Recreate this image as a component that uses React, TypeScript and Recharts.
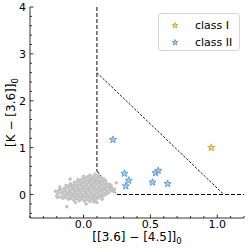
import React from "react";
import {
  ScatterChart,
  Scatter,
  XAxis,
  YAxis,
  ReferenceLine,
  Legend,
  Label,
} from "recharts";

// field sources, [[3.6]-[4.5]]0 vs [K-[3.6]]0
const FIELD: [number, number][] = [
  [-0.19, 0.03], [-0.185, 0.09], [-0.2, -0.02], [-0.21, 0.07], [-0.195, -0.06],
  [-0.17, -0.05], [-0.165, 0.04], [-0.172, 0.11], [-0.178, 0.16],
  [-0.152, -0.08], [-0.148, -0.01], [-0.155, 0.06], [-0.145, 0.13],
  [-0.132, -0.06], [-0.128, 0.0], [-0.135, 0.07], [-0.126, 0.14], [-0.13, 0.19], [-0.125, -0.26],
  [-0.112, -0.1], [-0.108, -0.03], [-0.115, 0.03], [-0.106, 0.09], [-0.11, 0.16], [-0.104, 0.21], [-0.1, 0.33],
  [-0.092, -0.08], [-0.088, -0.02], [-0.094, 0.04], [-0.086, 0.11], [-0.09, 0.17], [-0.095, 0.23],
  [-0.072, -0.12], [-0.068, -0.05], [-0.074, 0.01], [-0.066, 0.07], [-0.07, 0.13], [-0.075, 0.19], [-0.068, 0.26],
  [-0.052, -0.09], [-0.048, -0.03], [-0.055, 0.03], [-0.046, 0.09], [-0.05, 0.15], [-0.053, 0.21], [-0.047, 0.28],
  [-0.06, -0.17], [-0.04, 0.32],
  [-0.032, -0.13], [-0.028, -0.06], [-0.034, 0.0], [-0.026, 0.06], [-0.03, 0.12], [-0.035, 0.18], [-0.027, 0.24], [-0.031, 0.3],
  [-0.012, -0.1], [-0.008, -0.04], [-0.014, 0.02], [-0.006, 0.08], [-0.01, 0.14], [-0.015, 0.2], [-0.007, 0.26], [-0.011, 0.33],
  [0.008, -0.14], [0.012, -0.07], [0.006, -0.01], [0.014, 0.05], [0.01, 0.11], [0.005, 0.17], [0.013, 0.23], [0.009, 0.29], [0.011, 0.35],
  [0.02, -0.2], [0.0, 0.39],
  [0.028, -0.11], [0.032, -0.05], [0.026, 0.01], [0.034, 0.07], [0.03, 0.13], [0.025, 0.19], [0.033, 0.25], [0.029, 0.31], [0.031, 0.38],
  [0.048, -0.15], [0.052, -0.08], [0.046, -0.02], [0.054, 0.04], [0.05, 0.1], [0.045, 0.16], [0.053, 0.22], [0.049, 0.28], [0.051, 0.34], [0.047, 0.41],
  [0.068, -0.1], [0.072, -0.04], [0.066, 0.02], [0.074, 0.08], [0.07, 0.14], [0.065, 0.2], [0.073, 0.26], [0.069, 0.32], [0.071, 0.38],
  [0.078, -0.16],
  [0.088, -0.12], [0.092, -0.06], [0.086, 0.0], [0.094, 0.06], [0.09, 0.12], [0.085, 0.18], [0.093, 0.24], [0.089, 0.3], [0.091, 0.36], [0.087, 0.43],
  [0.1, -0.17],
  [0.108, -0.08], [0.112, -0.02], [0.106, 0.04], [0.114, 0.1], [0.11, 0.16], [0.105, 0.22], [0.113, 0.28], [0.109, 0.34], [0.111, 0.4],
  [0.128, -0.05], [0.132, 0.01], [0.126, 0.07], [0.134, 0.13], [0.13, 0.19], [0.125, 0.25], [0.133, 0.31], [0.129, 0.37],
  [0.148, -0.03], [0.152, 0.03], [0.146, 0.09], [0.154, 0.15], [0.15, 0.21], [0.145, 0.27], [0.153, 0.33],
  [0.14, -0.1],
  [0.168, 0.0], [0.172, 0.06], [0.166, 0.12], [0.174, 0.18], [0.17, 0.24], [0.165, 0.3],
  [0.188, 0.04], [0.192, 0.1], [0.186, 0.16], [0.194, 0.22],
  [0.208, 0.08], [0.212, 0.14], [0.206, 0.2],
  [0.228, 0.06], [0.232, 0.12],
  [0.245, 0.25],
];

const CLASS_I: [number, number][] = [[0.955, 1.0]];

const CLASS_II: [number, number][] = [
  [0.22, 1.17],
  [0.306, 0.45],
  [0.338, 0.3],
  [0.316, 0.18],
  [0.539, 0.46],
  [0.559, 0.51],
  [0.516, 0.26],
  [0.629, 0.23],
];

// selection boundaries
const VERT_LINE = [{ x: 0.1, y: 4 }, { x: 0.1, y: 0.5 }];
const LOWER_DIAG = [{ x: 0.1, y: 0.5 }, { x: 0.25, y: 0 }];
const ZERO_LINE = [{ x: 0.25, y: 0 }, { x: 1.2, y: 0 }];
const UPPER_DIAG = [{ x: 0.1, y: 2.6 }, { x: 1.05, y: 0 }];

const X_DOMAIN = [-0.4, 1.2];
const Y_DOMAIN = [-0.5, 4];
const X_TICKS = [-0.4, -0.3, -0.2, -0.1, 0, 0.1, 0.2, 0.3, 0.4, 0.5, 0.6, 0.7, 0.8, 0.9, 1.0, 1.1, 1.2];
const X_MAJOR = [0, 0.5, 1.0];
const Y_TICKS = [-0.4, -0.2, 0, 0.2, 0.4, 0.6, 0.8, 1, 1.2, 1.4, 1.6, 1.8, 2, 2.2, 2.4, 2.6, 2.8, 3, 3.2, 3.4, 3.6, 3.8, 4];
const Y_MAJOR = [0, 1, 2, 3, 4];

const COLORS: Record<string, { fill: string; stroke: string }> = {
  "class I": { fill: "#ecd28c", stroke: "#d2a437" },
  "class II": { fill: "#a9cbec", stroke: "#5a9bd6" },
};

const FONT = "DejaVu Sans, sans-serif";
const toPts = (a: [number, number][]) => a.map(([x, y]) => ({ x, y }));

const isMajor = (v: number, list: number[]) => list.some((m) => Math.abs(m - v) < 1e-6);

function Star({ cx, cy, r = 3.8, fill, stroke }: any) {
  const pts: string[] = [];
  for (let i = 0; i < 10; i++) {
    const rr = i % 2 === 0 ? r : r * 0.42;
    const a = -Math.PI / 2 + (i * Math.PI) / 5;
    pts.push(`${cx + rr * Math.cos(a)},${cy + rr * Math.sin(a)}`);
  }
  return <polygon points={pts.join(" ")} fill={fill} stroke={stroke} strokeWidth={0.9} strokeLinejoin="round" />;
}

const tickFor = (side: "bottom" | "top" | "left" | "right") => (p: any) => {
  const v = p.payload.value;
  const major = isMajor(v, side === "bottom" || side === "top" ? X_MAJOR : Y_MAJOR);
  const len = major ? 3.5 : 2;
  const { x, y } = p;
  if (side === "bottom")
    return (
      <g>
        <line x1={x} y1={y} x2={x} y2={y - len} stroke="#000" strokeWidth={0.8} />
        {major && (
          <text x={x} y={y + 10} textAnchor="middle" fontSize={11} fontFamily={FONT} fill="#000">
            {v.toFixed(1)}
          </text>
        )}
      </g>
    );
  if (side === "top") return <line x1={x} y1={y} x2={x} y2={y + len} stroke="#000" strokeWidth={0.8} />;
  if (side === "left")
    return (
      <g>
        <line x1={x} y1={y} x2={x + len} y2={y} stroke="#000" strokeWidth={0.8} />
        {major && (
          <text x={x - 4} y={y + 4} textAnchor="end" fontSize={11} fontFamily={FONT} fill="#000">
            {v}
          </text>
        )}
      </g>
    );
  return <line x1={x} y1={y} x2={x - len} y2={y} stroke="#000" strokeWidth={0.8} />;
};

function XTitle({ viewBox }: any) {
  const cx = viewBox.x + viewBox.width / 2;
  return (
    <text x={cx} y={viewBox.y + 23} textAnchor="middle" fontSize={12} fontFamily={FONT} fill="#000">
      [[3.6] − [4.5]]
      <tspan dy={3} fontSize={8.5}>0</tspan>
    </text>
  );
}

function YTitle({ viewBox }: any) {
  const cy = viewBox.y + viewBox.height / 2;
  const x = 15;
  return (
    <text
      x={x}
      y={cy}
      transform={`rotate(-90 ${x} ${cy})`}
      textAnchor="middle"
      fontSize={12}
      fontFamily={FONT}
      fill="#000"
    >
      [K − [3.6]]
      <tspan dy={3} fontSize={8.5}>0</tspan>
    </text>
  );
}

function LegendBox({ payload }: any) {
  const items = (payload || []).filter((e: any) => COLORS[e.value]);
  return (
    <div
      style={{
        width: 82,
        height: 38,
        border: "1px solid #d6d6d6",
        borderRadius: 3,
        background: "#fff",
        fontFamily: FONT,
        fontSize: 11,
        paddingTop: 3,
        boxSizing: "border-box",
      }}
    >
      {items.map((e: any) => (
        <div key={e.value} style={{ display: "flex", alignItems: "center", height: 17 }}>
          <svg width={36} height={17} style={{ display: "block" }}>
            <Star cx={16} cy={8.5} r={3} fill={COLORS[e.value].fill} stroke={COLORS[e.value].stroke} />
          </svg>
          <span style={{ color: "#000", whiteSpace: "nowrap" }}>{e.value}</span>
        </div>
      ))}
    </div>
  );
}

export default function App() {
  return (
    <div style={{ position: "fixed", left: 0, top: 0, background: "#fff" }}>
      <ScatterChart width={249} height={252} margin={{ top: 7, right: 5, bottom: 0, left: 0 }}>
        <XAxis
          type="number"
          dataKey="x"
          domain={X_DOMAIN}
          ticks={X_TICKS}
          interval={0}
          allowDataOverflow
          height={34}
          tickSize={0}
          tickMargin={0}
          tick={tickFor("bottom")}
          axisLine={{ stroke: "#000", strokeWidth: 0.8 }}
        >
          <Label content={<XTitle />} />
        </XAxis>
        <XAxis
          xAxisId="top"
          orientation="top"
          type="number"
          dataKey="x"
          domain={X_DOMAIN}
          ticks={X_TICKS}
          interval={0}
          allowDataOverflow
          height={0}
          tickSize={0}
          tickMargin={0}
          tick={tickFor("top")}
          axisLine={{ stroke: "#000", strokeWidth: 0.8 }}
        />
        <YAxis
          type="number"
          dataKey="y"
          domain={Y_DOMAIN}
          ticks={Y_TICKS}
          interval={0}
          allowDataOverflow
          width={30}
          tickSize={0}
          tickMargin={0}
          tick={tickFor("left")}
          axisLine={{ stroke: "#000", strokeWidth: 0.8 }}
        >
          <Label content={<YTitle />} />
        </YAxis>
        <YAxis
          yAxisId="right"
          orientation="right"
          type="number"
          dataKey="y"
          domain={Y_DOMAIN}
          ticks={Y_TICKS}
          interval={0}
          allowDataOverflow
          width={0}
          tickSize={0}
          tickMargin={0}
          tick={tickFor("right")}
          axisLine={{ stroke: "#000", strokeWidth: 0.8 }}
        />
        <Scatter
          name="field"
          data={toPts(FIELD)}
          legendType="none"
          isAnimationActive={false}
          shape={(p: any) => <circle cx={p.cx} cy={p.cy} r={1.8} fill="#c3c3c3" />}
        />
        <ReferenceLine segment={VERT_LINE} stroke="#333" strokeWidth={1.2} strokeDasharray="4 2" />
        <ReferenceLine segment={LOWER_DIAG} stroke="#000" strokeWidth={1} strokeDasharray="3.5 1.6" />
        <ReferenceLine segment={ZERO_LINE} stroke="#000" strokeWidth={1.1} strokeDasharray="4 2" />
        <ReferenceLine segment={UPPER_DIAG} stroke="#000" strokeWidth={0.9} strokeDasharray="2.5 1.5" />
        <Scatter
          name="class I"
          data={toPts(CLASS_I)}
          fill={COLORS["class I"].stroke}
          isAnimationActive={false}
          shape={(p: any) => <Star cx={p.cx} cy={p.cy} {...COLORS["class I"]} />}
        />
        <Scatter
          name="class II"
          data={toPts(CLASS_II)}
          fill={COLORS["class II"].stroke}
          isAnimationActive={false}
          shape={(p: any) => <Star cx={p.cx} cy={p.cy} {...COLORS["class II"]} />}
        />
        <Legend
          layout="vertical"
          align="center"
          verticalAlign="middle"
          wrapperStyle={{ position: "absolute", top: 13, left: 158, width: 82 }}
          content={<LegendBox />}
        />
      </ScatterChart>
    </div>
  );
}
